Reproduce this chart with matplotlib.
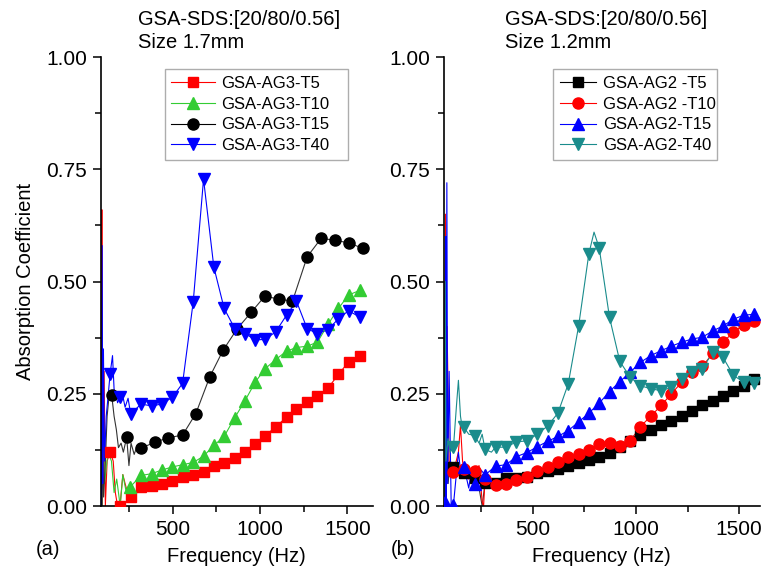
import matplotlib
matplotlib.use('Agg')
import matplotlib.pyplot as plt
from matplotlib.ticker import MultipleLocator, FormatStrFormatter

plt.rcParams['font.family'] = ['Liberation Sans', 'DejaVu Sans']

# (a) Size 1.7mm, marker points
a_t5_f = [142, 199, 260, 319, 380, 437, 498, 557, 618, 677, 736, 795, 856, 915, 973,
          1030, 1090, 1152, 1209, 1270, 1329, 1390, 1449, 1507, 1570]
a_t5_v = [0.121, 0.0, 0.019, 0.042, 0.045, 0.049, 0.055, 0.064, 0.070, 0.076, 0.089, 0.095,
          0.108, 0.120, 0.138, 0.157, 0.176, 0.198, 0.217, 0.231, 0.246, 0.263, 0.293, 0.321, 0.335]
a_t10_f = [256, 319, 380, 437, 498, 557, 618, 677, 736, 795, 856, 915, 973,
           1030, 1090, 1152, 1209, 1270, 1329, 1390, 1449, 1507, 1570]
a_t10_v = [0.042, 0.068, 0.072, 0.080, 0.087, 0.092, 0.097, 0.111, 0.135, 0.155, 0.197, 0.235,
           0.276, 0.306, 0.326, 0.345, 0.353, 0.356, 0.365, 0.405, 0.44, 0.47, 0.48]
a_t15_f = [151, 237, 319, 399, 475, 557, 633, 713, 789, 870, 951, 1027, 1110, 1186,
           1270, 1350, 1430, 1507, 1589]
a_t15_v = [0.248, 0.153, 0.129, 0.142, 0.152, 0.158, 0.206, 0.288, 0.347, 0.395, 0.432, 0.467,
           0.461, 0.456, 0.555, 0.596, 0.592, 0.586, 0.574]
a_t40_f = [142, 199, 260, 319, 380, 437, 498, 557, 618, 677, 736, 795, 856, 915, 973,
           1030, 1090, 1152, 1209, 1270, 1329, 1390, 1449, 1507, 1570]
a_t40_v = [0.294, 0.242, 0.205, 0.227, 0.223, 0.227, 0.242, 0.273, 0.455, 0.728, 0.532, 0.44,
           0.395, 0.384, 0.37, 0.371, 0.388, 0.425, 0.456, 0.395, 0.384, 0.393, 0.417, 0.435, 0.421]

# (a) noisy low-frequency parts of the curves (line only)
a_t5_raw_f = [92, 95, 98, 101, 104, 108, 115, 125, 160, 172, 185, 215, 228, 242]
a_t5_raw_v = [0.0, 0.66, 0.0, 0.2, 0.05, 0.3, 0.0, 0.1, 0.1, 0.03, 0.0, 0.07, 0.05, 0.03]
a_t10_raw_f = [96, 100, 110, 130, 150, 165, 180, 200, 215, 235]
a_t10_raw_v = [0.0, 0.3, 0.05, 0.12, 0.10, 0.03, 0.06, 0.0, 0.07, 0.03]
a_t15_raw_f = [95, 100, 105, 115, 125, 135, 165, 178, 190, 205, 218, 250, 262, 280, 298]
a_t15_raw_v = [0.0, 0.1, 0.02, 0.1, 0.2, 0.24, 0.2, 0.17, 0.13, 0.14, 0.12, 0.09, 0.14, 0.115, 0.135]
a_t40_raw_f = [93, 97, 100, 104, 110, 120, 132, 156, 165, 175, 185, 215, 228, 245]
a_t40_raw_v = [0.0, 0.58, 0.05, 0.35, 0.1, 0.2, 0.25, 0.335, 0.26, 0.25, 0.23, 0.245, 0.22, 0.24]

# (b) Size 1.2mm, marker points
b_f = [116, 167, 218, 269, 320, 371, 421, 472, 522, 572, 622, 672, 722, 772, 822, 872, 922,
       972, 1022, 1072, 1122, 1172, 1222, 1272, 1322, 1372, 1422, 1472, 1522, 1572]
b_t5_v = [0.086, 0.073, 0.062, 0.051, 0.052, 0.062, 0.063, 0.065, 0.073, 0.079, 0.082, 0.089,
          0.095, 0.103, 0.110, 0.119, 0.132, 0.145, 0.158, 0.169, 0.18, 0.19, 0.201, 0.212,
          0.224, 0.235, 0.246, 0.257, 0.268, 0.283]
b_t10_v = [0.075, 0.082, 0.078, 0.06, 0.047, 0.05, 0.058, 0.065, 0.077, 0.086, 0.099, 0.109,
           0.116, 0.125, 0.138, 0.14, 0.133, 0.145, 0.177, 0.2, 0.224, 0.25, 0.276, 0.298,
           0.311, 0.34, 0.365, 0.387, 0.404, 0.412]
b_t15_f = [76] + b_f
b_t15_v = [0.01, 0.003, 0.088, 0.05, 0.069, 0.089, 0.092, 0.11, 0.119, 0.132, 0.144, 0.155,
           0.168, 0.187, 0.207, 0.229, 0.255, 0.277, 0.298, 0.32, 0.335, 0.346, 0.356, 0.365,
           0.372, 0.376, 0.39, 0.401, 0.416, 0.425, 0.427]
b_t40_v = [0.131, 0.175, 0.157, 0.126, 0.131, 0.131, 0.143, 0.145, 0.16, 0.178, 0.207, 0.272,
           0.40, 0.562, 0.575, 0.42, 0.322, 0.287, 0.268, 0.261, 0.257, 0.264, 0.283, 0.298,
           0.305, 0.343, 0.331, 0.291, 0.276, 0.273]

# (b) noisy parts / peak of the curves (line only)
b_t5_raw_f = [72, 75, 78, 82, 90, 100, 140, 190, 240, 255, 290, 300]
b_t5_raw_v = [0.0, 0.5, 0.0, 0.3, 0.05, 0.1, 0.09, 0.07, 0.04, 0.0, 0.06, 0.04]
b_t10_raw_f = [74, 77, 80, 85, 95, 140, 150, 160, 190, 240, 255, 262, 290]
b_t10_raw_v = [0.0, 0.65, 0.02, 0.4, 0.1, 0.12, 0.18, 0.1, 0.06, 0.09, 0.01, 0.0, 0.05]
b_t15_raw_f = [78, 80, 84, 88, 95, 105, 140, 150, 190, 200, 240, 250]
b_t15_raw_v = [0.6, 0.0, 0.72, 0.05, 0.3, 0.0, 0.12, 0.08, 0.04, 0.07, 0.05, 0.08]
b_t40_raw_f = [72, 76, 80, 90, 100, 130, 140, 150, 160, 190, 240, 255, 300, 797]
b_t40_raw_v = [0.0, 0.5, 0.1, 0.15, 0.12, 0.22, 0.28, 0.2, 0.17, 0.16, 0.14, 0.16, 0.12, 0.61]

RED = '#ff0000'
GREEN = '#33cc33'
BLUE = '#0000ff'
TEAL = '#1a8c8c'


def merge(f1, v1, f2, v2):
    pts = sorted(zip(list(f1) + list(f2), list(v1) + list(v2)))
    return [p[0] for p in pts], [p[1] for p in pts]


def draw(ax, f, v, raw_f, raw_v, color, marker, ms, label, lc=None):
    lf, lv = merge(f, v, raw_f, raw_v)
    ax.plot(lf, lv, '-', color=lc or color, lw=0.8, zorder=2)
    ax.plot(f, v, linestyle='none', marker=marker, ms=ms, color=color,
            mec=color, zorder=3)
    # legend handle: line + marker
    ax.plot([], [], '-', marker=marker, ms=ms, color=color, lw=0.8,
            label=label)


def style(ax, xlim):
    ax.set_xlim(*xlim)
    ax.set_ylim(0, 1.0)
    for s in ['top', 'right']:
        ax.spines[s].set_visible(False)
    for s in ['left', 'bottom']:
        ax.spines[s].set_linewidth(1.2)
    ax.xaxis.set_major_locator(MultipleLocator(500))
    ax.xaxis.set_minor_locator(MultipleLocator(250))
    ax.yaxis.set_major_locator(MultipleLocator(0.25))
    ax.yaxis.set_minor_locator(MultipleLocator(0.125))
    ax.yaxis.set_major_formatter(FormatStrFormatter('%.2f'))
    ax.tick_params(which='major', direction='out', length=6, width=1.1, labelsize=15, pad=4)
    ax.tick_params(which='minor', direction='out', length=4, width=1.1)
    ax.set_xlabel('Frequency (Hz)', fontsize=14.5, labelpad=6)


fig = plt.figure(figsize=(7.61, 5.76), dpi=100)
ax1 = fig.add_axes([0.1327, 0.1215, 0.357, 0.7795])
ax2 = fig.add_axes([0.5834, 0.1215, 0.415, 0.7795])

draw(ax1, a_t5_f, a_t5_v, a_t5_raw_f, a_t5_raw_v, RED, 's', 7, 'GSA-AG3-T5')
draw(ax1, a_t10_f, a_t10_v, a_t10_raw_f, a_t10_raw_v, GREEN, '^', 8, 'GSA-AG3-T10')
draw(ax1, a_t15_f, a_t15_v, a_t15_raw_f, a_t15_raw_v, 'black', 'o', 8, 'GSA-AG3-T15', lc='#333333')
draw(ax1, a_t40_f, a_t40_v, a_t40_raw_f, a_t40_raw_v, BLUE, 'v', 8, 'GSA-AG3-T40')
style(ax1, (90, 1645))
ax1.set_ylabel('Absorption Coefficient', fontsize=14.5, labelpad=8)

draw(ax2, b_f, b_t5_v, b_t5_raw_f, b_t5_raw_v, 'black', 's', 7, 'GSA-AG2 -T5', lc='#333333')
draw(ax2, b_f, b_t10_v, b_t10_raw_f, b_t10_raw_v, RED, 'o', 8, 'GSA-AG2 -T10')
draw(ax2, b_t15_f, b_t15_v, b_t15_raw_f, b_t15_raw_v, BLUE, '^', 8, 'GSA-AG2-T15')
draw(ax2, b_f, b_t40_v, b_t40_raw_f, b_t40_raw_v, TEAL, 'v', 8, 'GSA-AG2-T40')
style(ax2, (70, 1600))

# legend boxes (x0, top, width) in axes fraction
for ax, box, hl in [(ax1, (0.235, 0.973, 0.673), 2.6), (ax2, (0.345, 0.973, 0.519), 2.2)]:
    x0, top, w = box
    leg = ax.legend(loc='upper left', bbox_to_anchor=(x0, top - 0.3, w, 0.3), mode='expand',
                    borderaxespad=0, fontsize=12, fancybox=False, frameon=True,
                    handlelength=hl, handletextpad=0.4, labelspacing=0.35, borderpad=0.4)
    leg.get_frame().set_edgecolor('#999999')
    leg.get_frame().set_linewidth(1.0)

fig.text(0.181, 0.967, 'GSA-SDS:[20/80/0.56]', fontsize=14.5, va='center')
fig.text(0.181, 0.927, 'Size 1.7mm', fontsize=14.5, va='center')
fig.text(0.664, 0.967, 'GSA-SDS:[20/80/0.56]', fontsize=14.5, va='center')
fig.text(0.664, 0.927, 'Size 1.2mm', fontsize=14.5, va='center')
fig.text(0.063, 0.046, '(a)', fontsize=14.5, va='center', ha='center')
fig.text(0.53, 0.046, '(b)', fontsize=14.5, va='center', ha='center')

fig.savefig('out.png', dpi=100)
